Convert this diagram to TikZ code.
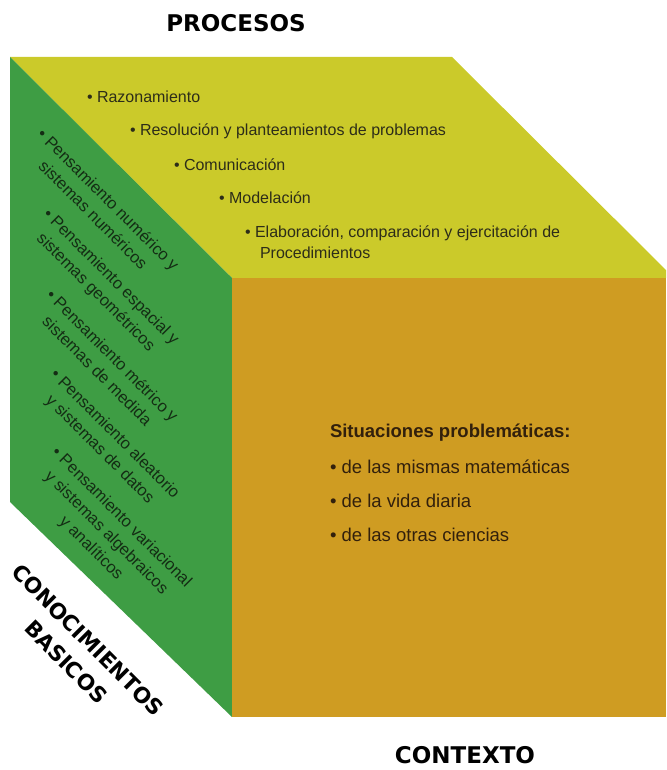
\documentclass[tikz,border=0pt]{standalone}
\usepackage{fontspec}
\setmainfont{Liberation Sans}
\newfontfamily\headfont{DejaVu Sans}
\usetikzlibrary{positioning}
\definecolor{topface}{RGB}{203,202,42}
\definecolor{sideface}{RGB}{62,157,68}
\definecolor{frontface}{RGB}{207,156,34}
\definecolor{toptext}{RGB}{45,45,25}
\definecolor{sidetext}{RGB}{20,45,20}
\definecolor{fronttext}{RGB}{50,32,12}
\tikzset{
  every node/.style={inner sep=0pt, outer sep=0pt},
  axislabel/.style={font=\headfont\bfseries\fontsize{23}{32}\selectfont, text=black, align=center},
  topitem/.style={anchor=west, font=\fontsize{16}{19}\selectfont, text=toptext},
  sideitem/.style={rotate=-45, align=center, font=\fontsize{16.5}{21.5}\selectfont, text=sidetext},
  frontitem/.style={anchor=west, font=\fontsize{18.5}{22}\selectfont, text=fronttext}
}

\begin{document}
\begin{tikzpicture}[x=1pt, y=1pt]
  \useasboundingbox (0,0) rectangle (666,770);
  \clip (0,0) rectangle (666,770);
  % Faces
  \fill[topface] (10,713) -- (452,713) -- (674,492) -- (232,492) -- cycle;
  \fill[sideface] (10,713) -- (232,492) -- (232,53) -- (10,268) -- cycle;
  \fill[frontface] (232,492) rectangle (666,53);

  % Axis labels
  \node (procesos) [axislabel] at (236,747) {PROCESOS};
  \node (contexto) [axislabel] at (465,15) {CONTEXTO};
  \node (conocimientos) [axislabel, font=\headfont\bfseries\fontsize{21.5}{31}\selectfont, rotate=-45] at (77,119) {CONOCIMIENTOS\\BASICOS};

  % Top face
  \node (razon) [topitem] at (87,673) {\textbullet\ Razonamiento};
  \node (resol) [topitem, below=34pt of razon.west, anchor=west, xshift=43pt] {\textbullet\ Resolución y planteamientos de problemas};
  \node (comun) [topitem, below=34pt of resol.west, anchor=west, xshift=44pt] {\textbullet\ Comunicación};
  \node (model) [topitem, below=33pt of comun.west, anchor=west, xshift=45pt] {\textbullet\ Modelación};
  \node (elab) [topitem, below=35pt of model.west, anchor=west, xshift=26pt] {\textbullet\ Elaboración, comparación y ejercitación de};
  \node (proced) [topitem, below=20pt of elab.west, anchor=west, xshift=15pt] {Procedimientos};

  % Side face
  \node (numerico) [sideitem] at (101,563) {\textbullet\ Pensamiento numérico y\\sistemas numéricos};
  \node (espacial) [sideitem] at (103,485) {\textbullet\ Pensamiento espacial y\\sistemas geométricos};
  \node (metrico) [sideitem] at (105,407) {\textbullet\ Pensamiento métrico y\\sistemas de medida};
  \node (aleatorio) [sideitem] at (107,328) {\textbullet\ Pensamiento aleatorio\\y sistemas de datos};
  \node (variacional) [sideitem] at (106,237) {\textbullet\ Pensamiento variacional\\y sistemas algebraicos\\y analíticos};

  % Front face
  \node (situaciones) [frontitem, font=\bfseries\fontsize{18.5}{22}\selectfont] at (330,337) {Situaciones problemáticas:};
  \node (mismas) [frontitem, below=34pt of situaciones.west, anchor=west] {\textbullet\ de las mismas matemáticas};
  \node (vida) [frontitem, below=34pt of mismas.west, anchor=west] {\textbullet\ de la vida diaria};
  \node (otras) [frontitem, below=34pt of vida.west, anchor=west] {\textbullet\ de las otras ciencias};
\end{tikzpicture}
\end{document}
